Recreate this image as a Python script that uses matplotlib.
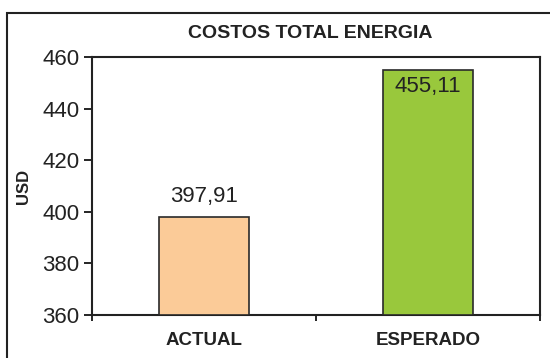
import numpy as np
import matplotlib
matplotlib.use("Agg")
import matplotlib.pyplot as plt
from matplotlib.patches import Rectangle

# data
categories = ["ACTUAL", "ESPERADO"]
values = [397.91, 455.11]
labels = ["397,91", "455,11"]
colors = ["#FBCB98", "#99C83C"]
yticks = [360, 380, 400, 420, 440, 460]

plt.rcParams['font.family'] = ['Liberation Sans', 'DejaVu Sans']

W, H = 550, 358
fig = plt.figure(figsize=(W/100, H/100), dpi=100)
ax = fig.add_axes([92/W, 1 - 315/H, (540-92)/W, (315-57)/H])

x = np.arange(len(categories))
ax.bar(x, np.array(values) - 360, bottom=360, width=0.4, color=colors,
       edgecolor="#2a2a2a", linewidth=1.2, zorder=3)
ax.set_xlim(-0.5, 1.5)
ax.set_ylim(360, 460)
ax.set_yticks(yticks)
ax.set_yticklabels([str(t) for t in yticks], fontsize=16, color="#222222")
ax.set_xticks([-0.5, 0.5, 1.5])
ax.set_xticklabels([])
ax.tick_params(axis="y", direction="out", length=6, width=1.2, pad=3)
ax.tick_params(axis="x", direction="out", length=4, width=1.2)
for s in ax.spines.values():
    s.set_linewidth(1.5)
    s.set_color("#222222")

for xi, v, lab in zip(x, values, labels):
    if v > 450:
        ax.text(xi, v - 2.5, lab, ha="center", va="top", fontsize=16, color="#222222")
    else:
        ax.text(xi, v + 4, lab, ha="center", va="bottom", fontsize=16, color="#222222")

for xi, c in zip(x, categories):
    ax.text(xi, -0.1, c, transform=ax.get_xaxis_transform(), ha="center", va="center",
            fontsize=13.5, fontweight="bold", color="#222222")

ax.set_ylabel("USD", fontsize=12, fontweight="bold", labelpad=8, color="#222222")
fig.text(310/W, 1 - 33/H, "COSTOS TOTAL ENERGIA", ha="center", va="center",
         fontsize=14, fontweight="bold", color="#222222")

fig.patches.append(Rectangle((7/W, -0.1), 1.2, 1 - 13/H + 0.1, transform=fig.transFigure,
                             fill=False, edgecolor="#222222", linewidth=1.5))

fig.savefig("out.png", dpi=100)
